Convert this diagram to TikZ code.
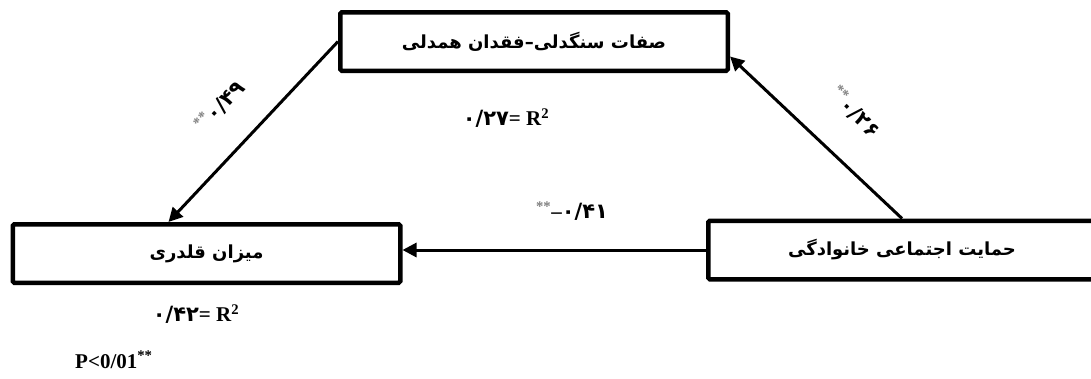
\documentclass[tikz,border=0pt]{standalone}
\usepackage{fontspec}
\setmainfont{Liberation Serif}
\newfontfamily\farsi[Script=Arabic]{DejaVu Sans}
\TeXXeTstate=1
\usetikzlibrary{arrows.meta}

\begin{document}
\begin{tikzpicture}[x=1pt,y=-1pt,%
% common options for blocks:
block/.style = {draw, line width=4.5pt, rounded corners=1.5pt, align=center,
            minimum width=387.5pt, minimum height=58.5pt, inner sep=0,
            font=\farsi\bfseries\fontsize{18}{20}\selectfont},
% common options for the arrows:
link/.style = {line width=3pt, -{Triangle[length=14pt,width=14pt]}},
% common options for the coefficients:
coef/.style = {inner sep=0, font=\bfseries\fontsize{21}{24}\selectfont}]
\newcommand{\stars}{\textsuperscript{\color{gray}**}}
\useasboundingbox (0,0) rectangle (1091,378);
\node[block] (B0) at (534,41.5) {\beginR صفات سنگدلی–فقدان همدلی\endR};
\node[block] (B1) at (206.5,253.5) {\beginR میزان قلدری\endR};
\node[block] (B2) at (902,250) {\beginR حمایت اجتماعی خانوادگی\endR};
\draw[link] (B2.north) to ([yshift=-15pt]B0.east);
\draw[link] (B0.west) to ([xshift=-38pt]B1.north);
\draw[link] (B2.west) to (B2.west -| B1.east);
\node[coef,rotate=46] (C0) at (220,106) {\stars{\farsi ۰/۴۹}};
\node[coef,rotate=-45] (C1) at (855,112) {\stars{\farsi ۰/۲۶}};
\node[coef] (C2) at (572,211) {\stars--{\farsi ۰/۴۱}};
\node[coef] (R0) at (506,118) {{\farsi ۰/۲۷}= R\textsuperscript{2}};
\node[coef] (R1) at (196,314) {{\farsi ۰/۴۲}= R\textsuperscript{2}};
\node[coef,anchor=west] (P0) at (75,360) {P<0/01\textsuperscript{**}};
\end{tikzpicture}
\end{document}
